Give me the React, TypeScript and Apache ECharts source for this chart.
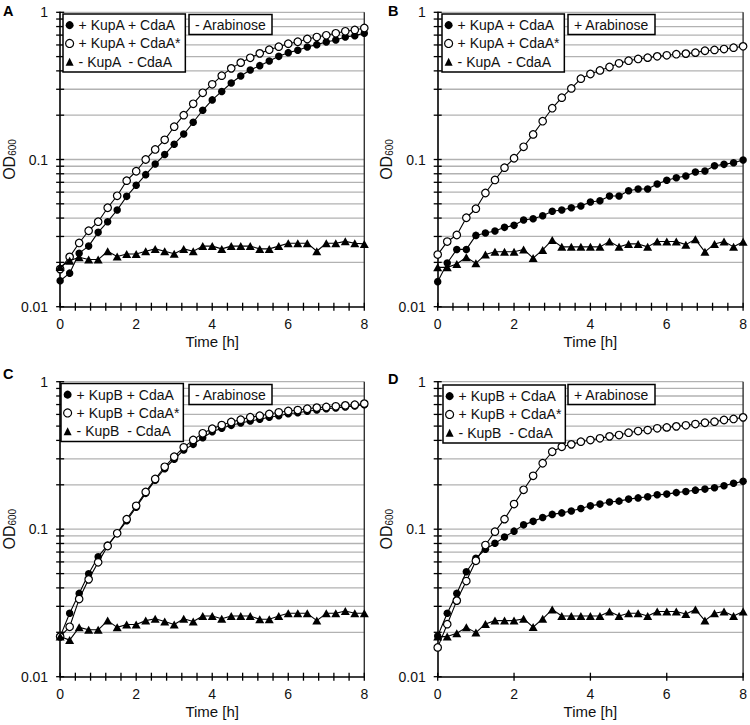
import React, { useEffect, useRef } from 'react';
import * as echarts from 'echarts';

const TIME_H = [0, 0.25, 0.5, 0.75, 1, 1.25, 1.5, 1.75, 2, 2.25, 2.5, 2.75, 3, 3.25, 3.5, 3.75, 4, 4.25, 4.5, 4.75, 5, 5.25, 5.5, 5.75, 6, 6.25, 6.5, 6.75, 7, 7.25, 7.5, 7.75, 8];

const X_MINOR_TICKS = [0, 0.4, 0.8, 1.2, 1.6, 2, 2.4, 2.8, 3.2, 3.6, 4, 4.4, 4.8, 5.2, 5.6, 6, 6.4, 6.8, 7.2, 7.6, 8];
const X_MAJOR_TICKS = [0, 2, 4, 6, 8];
const X_TICK_LABELS = ['0', '2', '4', '6', '8'];
const Y_GRID_VALUES = [0.01, 0.02, 0.03, 0.04, 0.05, 0.06, 0.07, 0.08, 0.09, 0.1, 0.2, 0.3, 0.4, 0.5, 0.6, 0.7, 0.8, 0.9, 1];
const Y_TICK_LABELS = ['0.01', '0.1', '1'];

const NAMES_KUPA = ['+ KupA + CdaA', '+ KupA + CdaA*', '- KupA  - CdaA'];
const NAMES_KUPB = ['+ KupB + CdaA', '+ KupB + CdaA*', '- KupB  - CdaA'];

// Panel A (- Arabinose)
const A_FILLED = [0.0150, 0.0169, 0.0231, 0.0258, 0.0320, 0.0378, 0.0454, 0.0562, 0.0668, 0.0789, 0.0931, 0.108, 0.127, 0.149, 0.179, 0.216, 0.254, 0.290, 0.331, 0.369, 0.406, 0.434, 0.467, 0.502, 0.532, 0.552, 0.581, 0.603, 0.628, 0.648, 0.679, 0.694, 0.720];
const A_OPEN = [0.0180, 0.0218, 0.0271, 0.0328, 0.0378, 0.0470, 0.0567, 0.0718, 0.0832, 0.100, 0.117, 0.136, 0.167, 0.200, 0.239, 0.284, 0.324, 0.371, 0.416, 0.455, 0.491, 0.526, 0.557, 0.584, 0.612, 0.631, 0.659, 0.679, 0.698, 0.720, 0.743, 0.759, 0.782];
const A_TRI = [0.0186, 0.0205, 0.0217, 0.0209, 0.0209, 0.0238, 0.0219, 0.0228, 0.0228, 0.0238, 0.0247, 0.0238, 0.0229, 0.0247, 0.0238, 0.0258, 0.0258, 0.0247, 0.0258, 0.0258, 0.0258, 0.0247, 0.0247, 0.0258, 0.0270, 0.0270, 0.0270, 0.0238, 0.0270, 0.0270, 0.0278, 0.0270, 0.0267];

// Panel B (+ Arabinose)
const B_FILLED = [0.0148, 0.0198, 0.0245, 0.0245, 0.0305, 0.0317, 0.0327, 0.0346, 0.0357, 0.0388, 0.0396, 0.0415, 0.0445, 0.0454, 0.0470, 0.0483, 0.0514, 0.0525, 0.0565, 0.0565, 0.0614, 0.0630, 0.0630, 0.0682, 0.0723, 0.0752, 0.0773, 0.0822, 0.0835, 0.0908, 0.0927, 0.0951, 0.0993];
const B_OPEN = [0.0226, 0.0277, 0.0307, 0.0402, 0.0463, 0.0592, 0.0726, 0.0880, 0.102, 0.122, 0.148, 0.182, 0.223, 0.263, 0.304, 0.354, 0.381, 0.403, 0.425, 0.450, 0.469, 0.482, 0.492, 0.502, 0.510, 0.519, 0.524, 0.532, 0.548, 0.555, 0.563, 0.575, 0.587];
const B_TRI = [0.0185, 0.0185, 0.0195, 0.0217, 0.0197, 0.0226, 0.0236, 0.0236, 0.0236, 0.0245, 0.0214, 0.0243, 0.0284, 0.0255, 0.0255, 0.0255, 0.0255, 0.0255, 0.0277, 0.0255, 0.0267, 0.0267, 0.0255, 0.0277, 0.0277, 0.0277, 0.0264, 0.0287, 0.0236, 0.0267, 0.0277, 0.0255, 0.0276];

// Panel C (- Arabinose)
const C_FILLED = [0.0187, 0.0269, 0.0367, 0.0499, 0.0651, 0.0781, 0.0938, 0.114, 0.141, 0.175, 0.215, 0.257, 0.298, 0.344, 0.376, 0.417, 0.458, 0.483, 0.506, 0.525, 0.542, 0.556, 0.574, 0.588, 0.607, 0.616, 0.630, 0.643, 0.656, 0.664, 0.674, 0.684, 0.698];
const C_OPEN = [0.0187, 0.0218, 0.0336, 0.0457, 0.0596, 0.0769, 0.0938, 0.117, 0.144, 0.179, 0.219, 0.265, 0.310, 0.359, 0.403, 0.447, 0.480, 0.508, 0.533, 0.553, 0.574, 0.588, 0.604, 0.620, 0.633, 0.642, 0.656, 0.667, 0.674, 0.681, 0.691, 0.698, 0.710];
const C_TRI = [0.0187, 0.0177, 0.0216, 0.0208, 0.0208, 0.0240, 0.0216, 0.0226, 0.0226, 0.0240, 0.0247, 0.0237, 0.0226, 0.0247, 0.0237, 0.0258, 0.0258, 0.0247, 0.0258, 0.0258, 0.0258, 0.0245, 0.0245, 0.0258, 0.0269, 0.0269, 0.0269, 0.0240, 0.0269, 0.0269, 0.0279, 0.0269, 0.0269];

// Panel D (+ Arabinose)
const D_FILLED = [0.0189, 0.0269, 0.0367, 0.0515, 0.0635, 0.0731, 0.0802, 0.0885, 0.0970, 0.107, 0.113, 0.120, 0.126, 0.129, 0.133, 0.138, 0.144, 0.148, 0.153, 0.155, 0.160, 0.163, 0.166, 0.171, 0.173, 0.177, 0.180, 0.184, 0.187, 0.191, 0.197, 0.205, 0.211];
const D_OPEN = [0.0158, 0.0227, 0.0328, 0.0445, 0.0611, 0.0781, 0.0962, 0.117, 0.148, 0.185, 0.230, 0.280, 0.335, 0.362, 0.376, 0.392, 0.402, 0.413, 0.426, 0.435, 0.451, 0.463, 0.470, 0.483, 0.490, 0.498, 0.506, 0.516, 0.527, 0.536, 0.550, 0.559, 0.573];
const D_TRI = [0.0187, 0.0187, 0.0197, 0.0216, 0.0199, 0.0228, 0.0240, 0.0240, 0.0240, 0.0247, 0.0217, 0.0247, 0.0286, 0.0258, 0.0258, 0.0258, 0.0258, 0.0258, 0.0277, 0.0258, 0.0269, 0.0269, 0.0258, 0.0277, 0.0277, 0.0277, 0.0266, 0.0286, 0.0240, 0.0269, 0.0277, 0.0258, 0.0277];

const PANEL_LETTERS = ['A', 'B', 'C', 'D'];
const ARABINOSE_LABELS = ['- Arabinose', '+ Arabinose', '- Arabinose', '+ Arabinose'];

// layout (pixels)
const LAYOUT = [
  { grid: { left: 58.3, top: 12.3, width: 306, height: 294.4 }, letter: { left: 3, top: 3 }, legend: { left: 63, top: 14 }, box: { left: 189, top: 14 } },
  { grid: { left: 437.7, top: 12.3, width: 306.8, height: 294.4 }, letter: { left: 388, top: 3 }, legend: { left: 442, top: 14 }, box: { left: 568, top: 14 } },
  { grid: { left: 58.3, top: 381.7, width: 306, height: 295 }, letter: { left: 3, top: 366 }, legend: { left: 61, top: 383.5 }, box: { left: 189, top: 384 } },
  { grid: { left: 437.7, top: 381.7, width: 307.3, height: 295 }, letter: { left: 388, top: 371 }, legend: { left: 443, top: 385 }, box: { left: 568, top: 384 } },
];

const FONT = "'Liberation Sans', Arial, sans-serif";

function buildOption() {
  const panelNames = [NAMES_KUPA, NAMES_KUPA, NAMES_KUPB, NAMES_KUPB];
  const panelData = [
    [A_FILLED, A_OPEN, A_TRI],
    [B_FILLED, B_OPEN, B_TRI],
    [C_FILLED, C_OPEN, C_TRI],
    [D_FILLED, D_OPEN, D_TRI],
  ];
  const panelXTicks = [X_MINOR_TICKS, X_MINOR_TICKS, X_MINOR_TICKS, X_MAJOR_TICKS];

  const grid: any[] = [];
  const xAxis: any[] = [];
  const yAxis: any[] = [];
  const series: any[] = [];
  const legend: any[] = [];
  const title: any[] = [];

  LAYOUT.forEach((L, i) => {
    grid.push({ ...L.grid, containLabel: false });
    xAxis.push({
      type: 'value', gridIndex: i, min: 0, max: 8, interval: 2,
      axisLine: { show: true, onZero: false, lineStyle: { color: '#000', width: 1.6 } },
      axisTick: { show: false }, splitLine: { show: false },
      axisLabel: { fontSize: 14, color: '#111', margin: 10, fontFamily: FONT, formatter: (v: number) => X_TICK_LABELS[Math.round(v / 2)] },
      name: 'Time [h]', nameLocation: 'middle', nameGap: 27,
      nameTextStyle: { fontSize: 15, color: '#111', fontFamily: FONT },
    });
    yAxis.push({
      type: 'log', logBase: 10, gridIndex: i, min: 0.01, max: 1, splitNumber: 2,
      axisLine: { show: true, onZero: false, lineStyle: { color: '#000', width: 1.6 } },
      axisTick: { show: false }, splitLine: { show: false },
      axisLabel: { fontSize: 14, color: '#111', margin: 12, fontFamily: FONT, formatter: (v: number) => Y_TICK_LABELS[Math.round(Math.log10(v)) + 2] },
      name: '{a|OD}{b|600}', nameLocation: 'middle', nameGap: 39,
      nameTextStyle: {
        color: '#111', fontFamily: FONT,
        rich: {
          a: { fontSize: 16, lineHeight: 19, verticalAlign: 'bottom', fontFamily: FONT, color: '#111' },
          b: { fontSize: 10, lineHeight: 10, verticalAlign: 'bottom', fontFamily: FONT, color: '#111' },
        },
      },
    });

    // gridlines + y ticks
    series.push({
      type: 'custom', xAxisIndex: i, yAxisIndex: i, silent: true, z: 1,
      data: Y_GRID_VALUES.map((v) => [0, v]),
      renderItem: (params: any, api: any) => {
        const v = api.value(1);
        const a = api.coord([0, v]);
        const b = api.coord([8, v]);
        const children: any[] = [];
        if (v > 0.0101) {
          children.push({ type: 'line', shape: { x1: a[0] + 1, y1: a[1], x2: b[0], y2: b[1] }, style: { stroke: '#b2b2b2', lineWidth: 1.3 } });
        }
        children.push({ type: 'line', shape: { x1: a[0] - 4, y1: a[1], x2: a[0] + 4, y2: a[1] }, style: { stroke: '#000', lineWidth: 1.3 } });
        return { type: 'group', children };
      },
    });
    // right border
    series.push({
      type: 'custom', xAxisIndex: i, yAxisIndex: i, silent: true, z: 1,
      data: [[8, 0.01]],
      renderItem: (params: any, api: any) => {
        const a = api.coord([8, 0.01]);
        const b = api.coord([8, 1]);
        return { type: 'line', shape: { x1: a[0], y1: a[1], x2: b[0], y2: b[1] }, style: { stroke: '#333', lineWidth: 1.4 } };
      },
    });
    // x ticks
    series.push({
      type: 'custom', xAxisIndex: i, yAxisIndex: i, silent: true, z: 1,
      data: panelXTicks[i].map((t) => [t, 0.01]),
      renderItem: (params: any, api: any) => {
        const p = api.coord([api.value(0), 0.01]);
        return { type: 'line', shape: { x1: p[0], y1: p[1] - 4, x2: p[0], y2: p[1] + 4 }, style: { stroke: '#000', lineWidth: 1.3 } };
      },
    });

    const names = panelNames[i];
    panelData[i].forEach((vals, j) => {
      series.push({
        type: 'line', name: names[j], xAxisIndex: i, yAxisIndex: i,
        data: TIME_H.map((t, k) => [t, vals[k]]),
        symbol: j === 2 ? 'triangle' : 'circle',
        symbolSize: j === 2 ? [9, 8] : 7.5,
        showSymbol: true,
        lineStyle: { color: '#000', width: 1.1 },
        itemStyle: j === 1 ? { color: '#fff', borderColor: '#000', borderWidth: 1.2 } : { color: '#000', borderWidth: 0 },
        z: 3 + j,
        silent: true,
      });
    });

    legend.push({
      orient: 'vertical', left: L.legend.left, top: L.legend.top,
      padding: [3, 4, 2, 2], itemGap: 2, itemWidth: 8, itemHeight: 8,
      borderColor: '#000', borderWidth: 1.5, backgroundColor: '#fff',
      selectedMode: false,
      textStyle: { fontSize: 14, lineHeight: 16.3, color: '#111', fontFamily: FONT },
      data: [
        { name: names[0], icon: 'circle', itemStyle: { color: '#000', borderWidth: 0 } },
        { name: names[1], icon: 'circle', itemStyle: { color: '#fff', borderColor: '#000', borderWidth: 1.2 } },
        { name: names[2], icon: 'triangle', itemStyle: { color: '#000', borderWidth: 0 } },
      ],
      z: 10,
    });

    title.push({
      text: PANEL_LETTERS[i], left: L.letter.left, top: L.letter.top, padding: 0,
      textStyle: { fontSize: 14.5, fontWeight: 'bold', color: '#000', fontFamily: FONT },
    });
    title.push({
      text: ARABINOSE_LABELS[i], left: L.box.left, top: L.box.top, padding: [2.5, 6, 2.5, 6],
      borderColor: '#000', borderWidth: 1.5, backgroundColor: '#fff',
      textStyle: { fontSize: 14, lineHeight: 16, fontWeight: 'normal', color: '#111', fontFamily: FONT },
      z: 10,
    });
  });

  return {
    animation: false,
    backgroundColor: '#fff',
    textStyle: { fontFamily: FONT },
    title, legend, grid, xAxis, yAxis, series,
  };
}

export default function App() {
  const ref = useRef<HTMLDivElement>(null);
  useEffect(() => {
    if (!ref.current) return;
    const chart = echarts.init(ref.current, undefined, { renderer: 'svg' });
    chart.setOption(buildOption() as any);
    return () => chart.dispose();
  }, []);
  return <div ref={ref} style={{ position: 'absolute', left: 0, top: 0, width: 750, height: 725, background: '#fff' }} />;
}
